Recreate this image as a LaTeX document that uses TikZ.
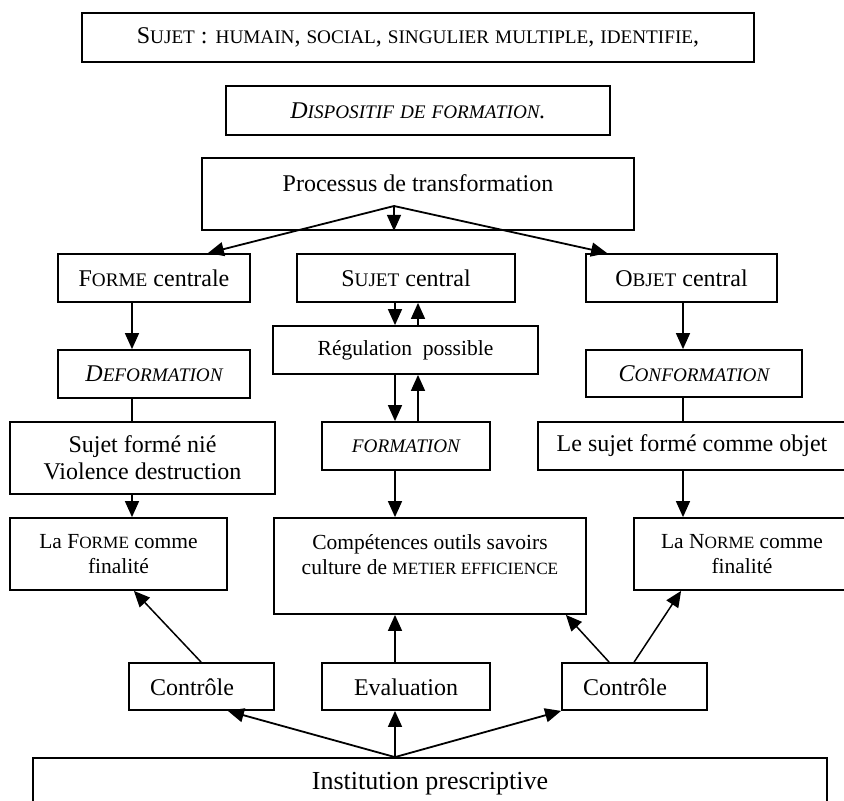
\documentclass[tikz,border=0pt]{standalone}
\usepackage{fontspec}
\setmainfont{Liberation Serif}
\usepackage{graphicx}
\usetikzlibrary{arrows.meta,calc}
\newcommand\smc[1]{\scalebox{0.8}{#1}}
\newcommand\fmain{\fontsize{24}{27}\selectfont}
\newcommand\fsmall{\fontsize{21.5}{25}\selectfont}
\newcommand\fbig{\fontsize{26}{30}\selectfont}
% name, x1, y1, x2, y2, options, text
\newcommand\bx[7]{\node[box, minimum width={(#4)-(#2)}, minimum height={(#5)-(#3)}, #6] (#1) at ({((#2)+(#4))/2},{((#3)+(#5))/2}) {#7};}
\begin{document}
\begin{tikzpicture}[x=1pt, y=-1pt,
  box/.style={draw, line width=1.8pt, inner sep=0pt, align=center, font=\fmain},
  txt/.style={inner sep=0pt, align=center, font=\fmain},
  arr/.style={line width=1.5pt, -{Triangle[length=16pt,width=14pt]}},
  ln/.style={line width=1.5pt}]
\fill[white] (0,0) rectangle (844,801);
\useasboundingbox (0,0) rectangle (844,801);

% top boxes
\bx{sujet}{82}{13}{754}{62}{}{S\smc{UJET} : \smc{HUMAIN}, \smc{SOCIAL}, \smc{SINGULIER} \smc{MULTIPLE}, \smc{IDENTIFIE},}
\bx{dispo}{226}{86}{610}{135}{}{\textit{D\smc{ISPOSITIF} \smc{DE} \smc{FORMATION}.}}
\bx{proc}{202}{158}{634}{230}{}{}
\node[txt] (proc-t) at (418,183) {Processus de transformation};

% row 2
\bx{fc}{58}{254}{250}{302}{}{F\smc{ORME} centrale}
\bx{sc}{297}{254}{515}{302}{}{S\smc{UJET} central}
\bx{oc}{586}{254}{777}{302}{}{O\smc{BJET} central}

% row 3
\bx{reg}{273}{326}{538}{374}{font=\fsmall}{Régulation\ \ possible}
\bx{defo}{58}{350}{250}{398}{}{\textit{D\smc{EFORMATION}}}
\bx{conf}{586}{350}{802}{397}{}{\textit{C\smc{ONFORMATION}}}

% row 4
\bx{nie}{10}{422}{275}{494}{}{Sujet formé nié\\Violence destruction}
\bx{form}{322}{422}{490}{470}{}{\textit{\smc{FORMATION}}}
\bx{objf}{538}{422}{846}{470}{}{Le sujet formé comme objet}

% row 5
\bx{lforme}{10}{518}{227}{590}{font=\fsmall}{La F\smc{ORME} comme\\finalité}
\bx{comp}{274}{518}{586}{614}{}{}
\node[txt, font=\fsmall] (comp-t) at (430,555) {Compétences outils savoirs\\culture de \smc{METIER EFFICIENCE}};
\bx{lnorme}{634}{518}{850}{590}{font=\fsmall}{La N\smc{ORME} comme\\finalité}

% row 6
\bx{ctlA}{129}{663}{274}{710}{}{}
\node[txt] (ctlA-t) at (192,687) {Contrôle};
\bx{eval}{322}{663}{490}{710}{}{}
\node[txt] (eval-t) at (406,687) {Evaluation};
\bx{ctlB}{562}{663}{707}{710}{}{}
\node[txt] (ctlB-t) at (625,687) {Contrôle};

% bottom
\bx{inst}{33}{758}{827}{840}{}{}
\node[txt, font=\fbig] (inst-t) at (430,784) {Institution prescriptive};

% connectors
\coordinate (papex) at (394,206);
\coordinate (cl) at (132,0);
\coordinate (cd) at (395,0);
\coordinate (cu) at (418,0);
\coordinate (cr) at (683,0);

\draw[arr, line width=1.8pt] (papex) -- ([xshift=-43pt]fc.north east);
\draw[arr] (papex) -- (papex |- proc.south);
\draw[arr, line width=1.8pt] (papex) -- ([xshift=22pt]oc.north west);

\draw[arr] (fc.south -| cl) -- (defo.north -| cl);
\draw[ln]  (defo.south -| cl) -- (nie.north -| cl);
\draw[arr] (nie.south -| cl) -- (lforme.north -| cl);

\draw[arr] (sc.south -| cd) -- (reg.north -| cd);
\draw[arr] (reg.north -| cu) -- (sc.south -| cu);
\draw[arr] (reg.south -| cd) -- (form.north -| cd);
\draw[arr] (form.north -| cu) -- (reg.south -| cu);
\draw[arr] (form.south -| cd) -- (comp.north -| cd);
\draw[arr] (eval.north -| cd) -- (comp.south -| cd);

\draw[arr] (oc.south -| cr) -- (conf.north -| cr);
\draw[ln]  (conf.south -| cr) -- (objf.north -| cr);
\draw[arr] (objf.south -| cr) -- (lnorme.north -| cr);

\draw[arr] ([xshift=73pt]ctlA.north west) -- ([xshift=-94pt]lforme.south east);
\draw[arr] ([xshift=48pt]ctlB.north west) -- ([xshift=-21pt]comp.south east);
\draw[arr] ([xshift=73pt]ctlB.north west) -- ([xshift=48pt]lnorme.south west);

\draw[arr, line width=1.8pt] (inst.north -| cd) -- ([xshift=-47pt]ctlA.south east);
\draw[arr] (inst.north -| cd) -- (eval.south -| cd);
\draw[arr, line width=1.8pt] (inst.north -| cd) -- (ctlB.south west);
\end{tikzpicture}
\end{document}
